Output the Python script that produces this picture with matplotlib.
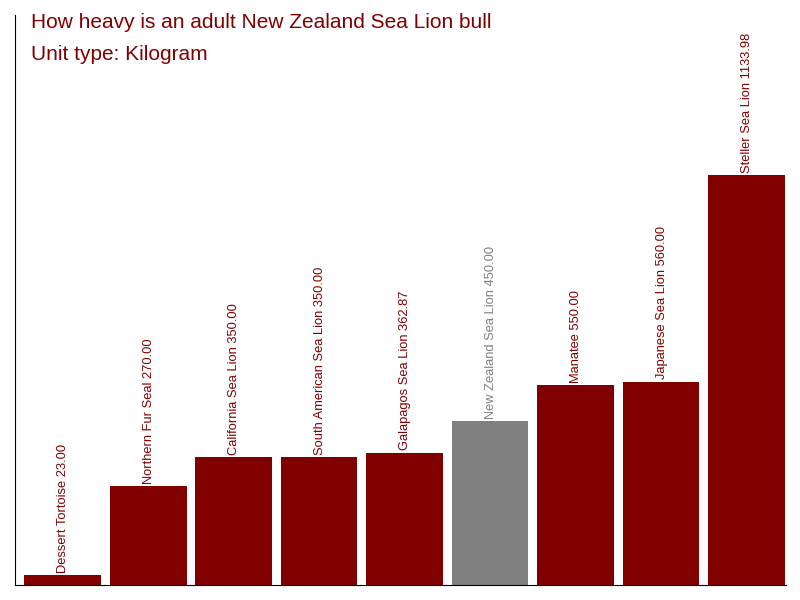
import matplotlib
matplotlib.use('Agg')
import matplotlib.pyplot as plt

# data
names = ['Dessert Tortoise', 'Northern Fur Seal', 'California Sea Lion',
         'South American Sea Lion', 'Galapagos Sea Lion', 'New Zealand Sea Lion',
         'Manatee', 'Japanese Sea Lion', 'Steller Sea Lion']
weights = [23.00, 270.00, 350.00, 350.00, 362.87, 450.00, 550.00, 560.00, 1133.98]
highlight = 'New Zealand Sea Lion'

plt.rcParams['font.family'] = ['Liberation Sans', 'DejaVu Sans']

fig = plt.figure(figsize=(8, 6), dpi=100)
ax = fig.add_axes([15 / 800, 15 / 600, 771 / 800, 570 / 600])

colors = ['#808080' if n == highlight else '#800000' for n in names]
x = range(len(names))
# bars start a little below zero, like the original
ax.bar(x, [w + 5 for w in weights], bottom=-5, width=0.9, color=colors)

for i, (n, w, c) in enumerate(zip(names, weights, colors)):
    ax.annotate('%s %.2f' % (n, w), (i, w), xytext=(0.5, 1.5), textcoords='offset points',
                rotation=90, ha='center', va='bottom', fontsize=9.3, color=c)

ax.set_xlim(-0.556, 8.462)
ax.set_ylim(-5, 1578)
ax.set_xticks([])
ax.set_yticks([])
ax.spines['top'].set_visible(False)
ax.spines['right'].set_visible(False)

fig.text(31 / 800, 1 - 23 / 600, 'How heavy is an adult New Zealand Sea Lion bull',
         fontsize=15, color='#800000', va='center')
fig.text(31 / 800, 1 - 54 / 600, 'Unit type: Kilogram',
         fontsize=15, color='#800000', va='center')

fig.savefig('out.png')
